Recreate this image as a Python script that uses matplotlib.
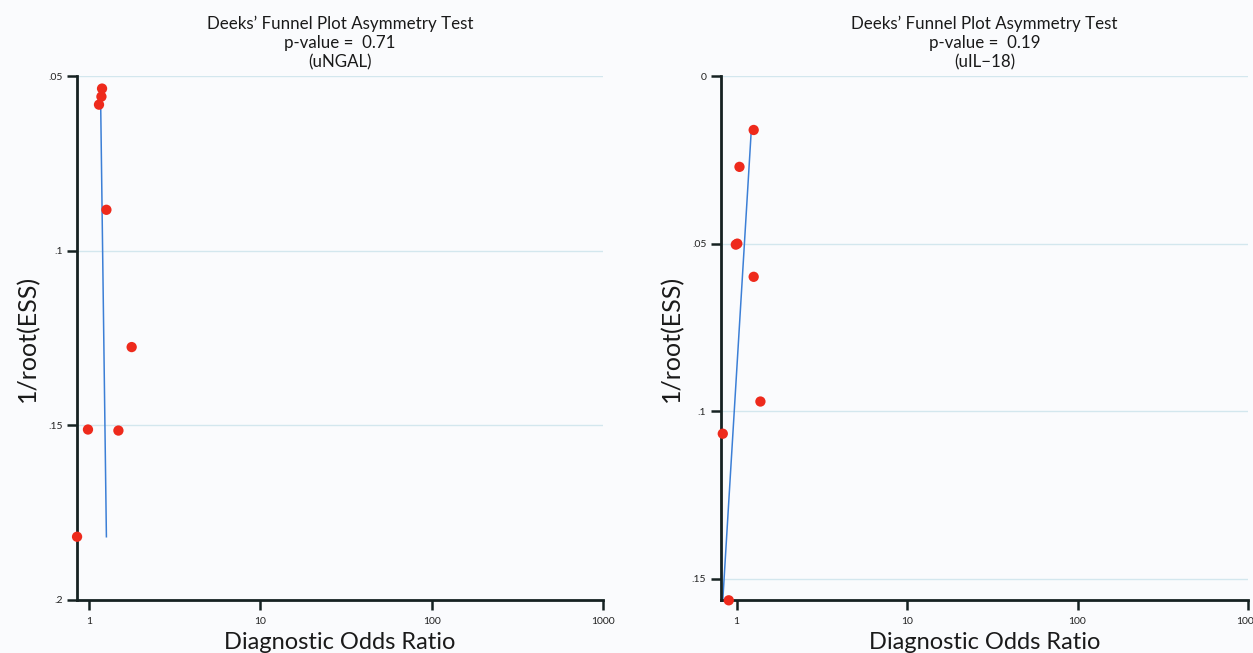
import matplotlib
matplotlib.use('Agg')
import matplotlib.pyplot as plt
from matplotlib.ticker import FixedLocator, FixedFormatter, NullLocator

plt.rcParams['font.family'] = ['Lato', 'DejaVu Sans']

# ---- data ----
ngal_title = "Deeks\u2019 Funnel Plot Asymmetry Test\np-value =  0.71\n(uNGAL)"
ngal_dor = [1.196, 1.186, 1.148, 1.268, 1.78, 0.99, 1.49, 0.855]
ngal_ess = [0.0536, 0.0559, 0.0582, 0.0883, 0.1276, 0.1512, 0.1515, 0.1819]
ngal_fit_dor = [1.171, 1.268]
ngal_fit_ess = [0.0536, 0.1819]
ngal_yticks = [0.05, 0.1, 0.15, 0.2]
ngal_ylabels = [".05", ".1", ".15", ".2"]

il18_title = "Deeks\u2019 Funnel Plot Asymmetry Test\np-value =  0.19\n(uIL\u221218)"
il18_dor = [1.26, 1.04, 1.01, 0.99, 1.26, 1.38, 0.83, 0.90]
il18_ess = [0.0161, 0.0271, 0.0500, 0.0503, 0.0599, 0.0971, 0.1067, 0.1564]
il18_fit_dor = [1.22, 0.83]
il18_fit_ess = [0.0161, 0.1564]
il18_yticks = [0.0, 0.05, 0.1, 0.15]
il18_ylabels = ["0", ".05", ".1", ".15"]

xticks = [1, 10, 100, 1000]
xlabels = ["1", "10", "100", "1000"]

BG = '#fafbfd'
fig = plt.figure(figsize=(12.53, 6.53), dpi=100, facecolor=BG)

panels = [
    dict(rect=[0.0615, 0.0812, 0.4198, 0.8024], title=ngal_title, x=ngal_dor, y=ngal_ess,
         fx=ngal_fit_dor, fy=ngal_fit_ess, yt=ngal_yticks, yl=ngal_ylabels,
         xlim=(0.855, 1000), ylim=(0.2, 0.05)),
    dict(rect=[0.5754, 0.0812, 0.4206, 0.8024], title=il18_title, x=il18_dor, y=il18_ess,
         fx=il18_fit_dor, fy=il18_fit_ess, yt=il18_yticks, yl=il18_ylabels,
         xlim=(0.81, 1000), ylim=(0.1563, 0.0)),
]

for p in panels:
    ax = fig.add_axes(p['rect'])
    ax.set_facecolor(BG)
    ax.set_xscale('log')
    ax.set_xlim(*p['xlim'])
    ax.set_ylim(*p['ylim'])
    for yv in p['yt']:
        ax.axhline(yv, color='#d3e7ee', lw=1.0, zorder=0)
    ax.plot(p['fx'], p['fy'], color='#3c7fd6', lw=1.1, zorder=2, clip_on=False)
    ax.scatter(p['x'], p['y'], s=55, color='#ee2a1c', edgecolors='none', zorder=3, clip_on=False)
    ax.xaxis.set_major_locator(FixedLocator(xticks))
    ax.xaxis.set_major_formatter(FixedFormatter(xlabels))
    ax.xaxis.set_minor_locator(NullLocator())
    ax.yaxis.set_major_locator(FixedLocator(p['yt']))
    ax.yaxis.set_major_formatter(FixedFormatter(p['yl']))
    for s in ['top', 'right']:
        ax.spines[s].set_visible(False)
    for s in ['left', 'bottom']:
        ax.spines[s].set_linewidth(2.0)
        ax.spines[s].set_color('#162222')
    ax.tick_params(axis='both', direction='out', length=7.5, width=1.8, color='#162222',
                   labelsize=7.5, labelcolor='#222222')
    ax.tick_params(axis='x', pad=5)
    ax.tick_params(axis='y', pad=3)
    ax.set_xlabel('Diagnostic Odds Ratio', fontsize=17, color='#1a1a1a', labelpad=4)
    ax.set_ylabel('1/root(ESS)', fontsize=18, color='#1a1a1a', labelpad=6)
    ax.set_title(p['title'], fontsize=12.2, color='#1a1a1a', linespacing=1.25, pad=6)

fig.savefig('out.png', dpi=100, facecolor=BG)
